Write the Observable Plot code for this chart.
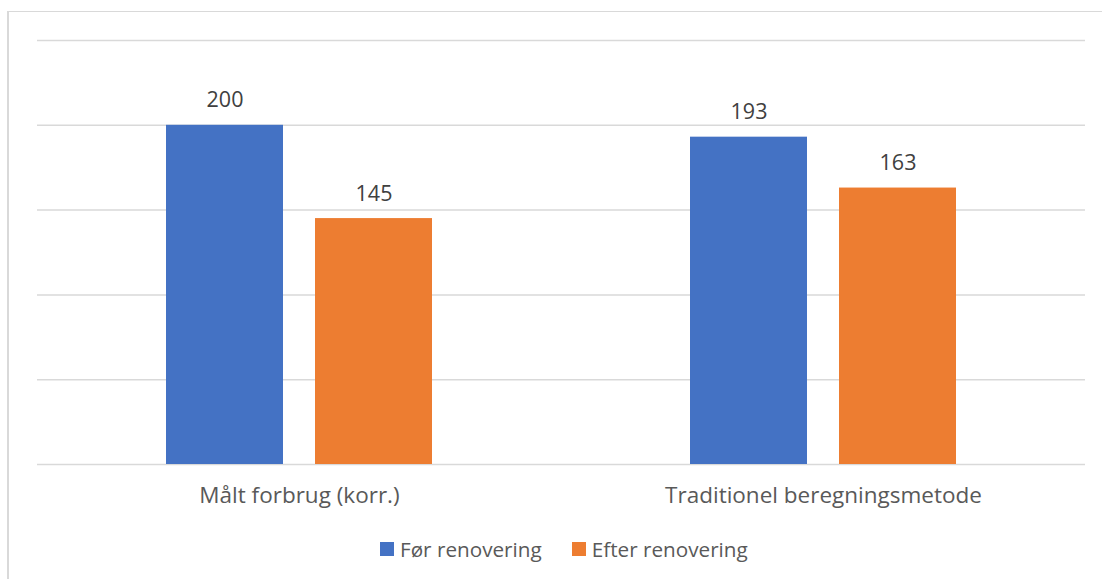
<!DOCTYPE html>
<html>
<head>
<meta charset="utf-8">
<script src="https://cdn.jsdelivr.net/npm/d3@7"></script>
<script src="https://cdn.jsdelivr.net/npm/@observablehq/plot@0.6"></script>
<style>
  html, body { margin: 0; padding: 0; background: #fff; }
  body { width: 1102px; height: 579px; position: relative; overflow: hidden; font-family: "Open Sans", sans-serif; }
  #frame { position: absolute; left: 7px; top: 11px; width: 1200px; height: 700px; border-left: 2px solid #d9d9d9; border-top: 1px solid #d9d9d9; }
  #chart { position: absolute; left: 0; top: 0; }
  #legend { position: absolute; left: 380px; top: 535px; display: flex; align-items: center; font-size: 20.7px; color: #595959; white-space: nowrap; }
  .item { display: flex; align-items: center; margin-right: 30px; }
  .sw { width: 14px; height: 14px; margin-right: 6px; }
</style>
</head>
<body>
<div id="frame"></div>
<div id="chart"></div>
<div id="legend"></div>
<script>
const categories = ["Målt forbrug (korr.)", "Traditionel beregningsmetode"];
const series = ["Før renovering", "Efter renovering"];
const before = [200, 193];
const after = [145, 163];
const gridTicks = [0, 50, 100, 150, 200, 250];
const colors = ["#4472C4", "#ED7D31"];

const data = [];
categories.forEach((c, i) => {
  data.push({category: c, series: series[0], value: before[i]});
  data.push({category: c, series: series[1], value: after[i]});
});

const chart = Plot.plot({
  width: 1102,
  height: 525,
  marginLeft: 37,
  marginRight: 17,
  marginTop: 40,
  marginBottom: 61,
  style: {fontFamily: "'Open Sans', sans-serif", background: "transparent"},
  fx: {domain: categories, paddingInner: 0, paddingOuter: 0, label: null},
  x: {domain: series, paddingInner: 0.217, paddingOuter: 0.861, axis: null},
  y: {domain: [0, 250], axis: null},
  color: {domain: series, range: colors},
  marks: [
    Plot.ruleY(gridTicks, {stroke: "#d9d9d9", strokeWidth: 1.5}),
    Plot.barY(data, {fx: "category", x: "series", y: "value", fill: "series"}),
    Plot.text(data, {fx: "category", x: "series", y: "value", text: d => String(d.value),
      lineAnchor: "bottom", dy: -18, fontSize: 21.5, fill: "#404040"}),
    Plot.axisFx({anchor: "bottom", tickSize: 0, tickPadding: 23, fontSize: 22.5, color: "#595959", label: null})
  ]
});
document.getElementById("chart").appendChild(chart);

const legend = document.getElementById("legend");
series.forEach((s, i) => {
  const item = document.createElement("div");
  item.className = "item";
  const sw = document.createElement("div");
  sw.className = "sw";
  sw.style.background = colors[i];
  const t = document.createElement("span");
  t.textContent = s;
  item.appendChild(sw);
  item.appendChild(t);
  legend.appendChild(item);
});
</script>
</body>
</html>
